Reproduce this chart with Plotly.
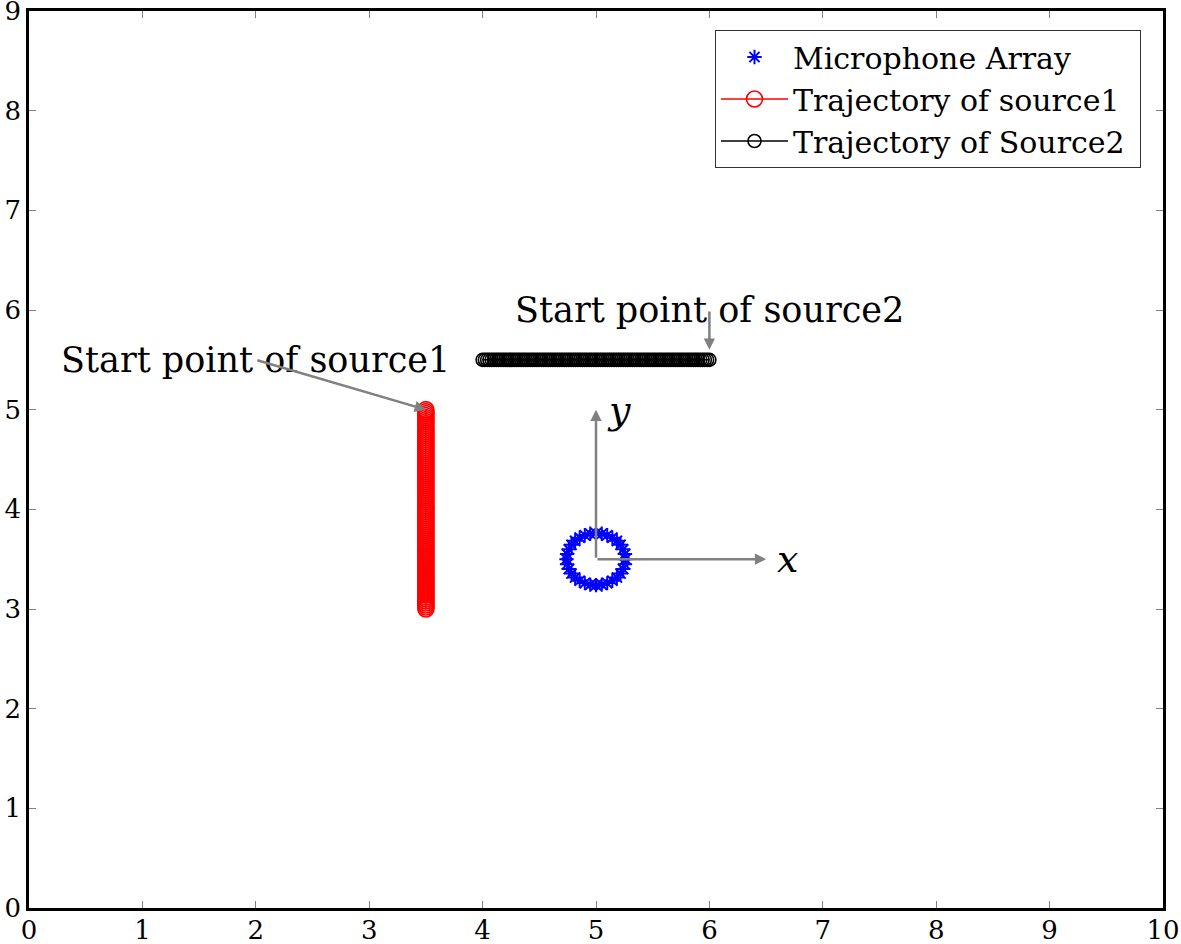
import plotly.graph_objects as go

# ---------------- data ----------------
mic_x = [5.260, 5.255, 5.240, 5.216, 5.184, 5.144, 5.099, 5.051, 5.000, 4.949,
         4.901, 4.856, 4.816, 4.784, 4.760, 4.745, 4.740, 4.745, 4.760, 4.784,
         4.816, 4.856, 4.901, 4.949, 5.000, 5.051, 5.099, 5.144, 5.184, 5.216,
         5.240, 5.255]
mic_y = [3.500, 3.551, 3.599, 3.644, 3.684, 3.716, 3.740, 3.755, 3.760, 3.755,
         3.740, 3.716, 3.684, 3.644, 3.599, 3.551, 3.500, 3.449, 3.401, 3.356,
         3.316, 3.284, 3.260, 3.245, 3.240, 3.245, 3.260, 3.284, 3.316, 3.356,
         3.401, 3.449]

src1_y = [5.00, 4.98, 4.96, 4.94, 4.92, 4.90, 4.88, 4.86, 4.84, 4.82,
          4.80, 4.78, 4.76, 4.74, 4.72, 4.70, 4.68, 4.66, 4.64, 4.62,
          4.60, 4.58, 4.56, 4.54, 4.52, 4.50, 4.48, 4.46, 4.44, 4.42,
          4.40, 4.38, 4.36, 4.34, 4.32, 4.30, 4.28, 4.26, 4.24, 4.22,
          4.20, 4.18, 4.16, 4.14, 4.12, 4.10, 4.08, 4.06, 4.04, 4.02,
          4.00, 3.98, 3.96, 3.94, 3.92, 3.90, 3.88, 3.86, 3.84, 3.82,
          3.80, 3.78, 3.76, 3.74, 3.72, 3.70, 3.68, 3.66, 3.64, 3.62,
          3.60, 3.58, 3.56, 3.54, 3.52, 3.50, 3.48, 3.46, 3.44, 3.42,
          3.40, 3.38, 3.36, 3.34, 3.32, 3.30, 3.28, 3.26, 3.24, 3.22,
          3.20, 3.18, 3.16, 3.14, 3.12, 3.10, 3.08, 3.06, 3.04, 3.02,
          3.00]
src1_x = [3.5] * len(src1_y)

src2_x = [6.00, 5.98, 5.96, 5.94, 5.92, 5.90, 5.88, 5.86, 5.84, 5.82,
          5.80, 5.78, 5.76, 5.74, 5.72, 5.70, 5.68, 5.66, 5.64, 5.62,
          5.60, 5.58, 5.56, 5.54, 5.52, 5.50, 5.48, 5.46, 5.44, 5.42,
          5.40, 5.38, 5.36, 5.34, 5.32, 5.30, 5.28, 5.26, 5.24, 5.22,
          5.20, 5.18, 5.16, 5.14, 5.12, 5.10, 5.08, 5.06, 5.04, 5.02,
          5.00, 4.98, 4.96, 4.94, 4.92, 4.90, 4.88, 4.86, 4.84, 4.82,
          4.80, 4.78, 4.76, 4.74, 4.72, 4.70, 4.68, 4.66, 4.64, 4.62,
          4.60, 4.58, 4.56, 4.54, 4.52, 4.50, 4.48, 4.46, 4.44, 4.42,
          4.40, 4.38, 4.36, 4.34, 4.32, 4.30, 4.28, 4.26, 4.24, 4.22,
          4.20, 4.18, 4.16, 4.14, 4.12, 4.10, 4.08, 4.06, 4.04, 4.02,
          4.00]
src2_y = [5.5] * len(src2_x)

x_ticks = [0, 1, 2, 3, 4, 5, 6, 7, 8, 9, 10]
y_ticks = [0, 1, 2, 3, 4, 5, 6, 7, 8, 9]

FONT = "DejaVu Serif"
GRAY = "#808080"

fig = go.Figure()
fig.add_trace(go.Scatter(
    x=mic_x, y=mic_y, mode="markers", name="Microphone Array",
    marker=dict(symbol="asterisk-open", size=12, color="blue",
                line=dict(color="blue", width=2)),
))
fig.add_trace(go.Scatter(
    x=src1_x, y=src1_y, mode="lines+markers", name="Trajectory of source1",
    line=dict(color="red", width=1.5),
    marker=dict(symbol="circle-open", size=16, color="red",
                line=dict(color="red", width=1.6)),
))
fig.add_trace(go.Scatter(
    x=src2_x, y=src2_y, mode="lines+markers", name="Trajectory of Source2&nbsp;",
    line=dict(color="black", width=1.5),
    marker=dict(symbol="circle-open", size=13, color="black",
                line=dict(color="black", width=1.6)),
))

labels = [
    (2.0, 5.5, "Start point of source1"),
    (6.0, 6.0, "Start point of source2"),
]
for lx, ly, t in labels:
    fig.add_annotation(x=lx, y=ly, xref="x", yref="y", text=t, showarrow=False,
                       font=dict(family=FONT, size=35, color="black"))

fig.add_annotation(x=5.0, y=5.0, xref="x", yref="y", text="<i>y</i>",
                   showarrow=False, xanchor="left", xshift=9,
                   font=dict(family=FONT, size=38, color="black"))
fig.add_annotation(x=6.5, y=3.5, xref="x", yref="y", text="<i>x</i>",
                   showarrow=False, xanchor="left", xshift=9,
                   font=dict(family=FONT, size=38, color="black"))

# arrows (drawn over the labels)
arrows = [
    (3.5, 5.0, 2.0, 5.5),
    (6.0, 5.6, 6.0, 6.0),
    (5.0, 5.0, 5.0, 3.5),
    (6.5, 3.5, 5.0, 3.5),
]
for hx, hy, tx, ty in arrows:
    fig.add_annotation(x=hx, y=hy, ax=tx, ay=ty, xref="x", yref="y",
                       axref="x", ayref="y", text="", showarrow=True,
                       arrowhead=2, arrowsize=0.9, arrowwidth=2.5,
                       arrowcolor=GRAY, standoff=0, startstandoff=0)

axis_common = dict(
    showgrid=False, zeroline=False, showline=True, linecolor="black",
    linewidth=2.5, mirror="ticks", ticks="inside", ticklen=7, tickwidth=1,
    tickcolor=GRAY, tickfont=dict(family=FONT, size=26, color="black"),
    automargin=False, ticklabeloverflow="allow",
)
fig.update_xaxes(range=[0, 10], tickvals=x_ticks, ticktext=[str(v) for v in x_ticks],
                 ticklabelstandoff=-3, **axis_common)
fig.update_yaxes(range=[0, 9], tickvals=y_ticks, ticktext=[str(v) for v in y_ticks],
                 **axis_common)

fig.update_layout(
    width=1181, height=944,
    margin=dict(l=29, r=18, t=11, b=36),
    plot_bgcolor="white", paper_bgcolor="white",
    font=dict(family=FONT, color="black"),
    legend=dict(x=0.9806, y=0.9788, xanchor="right", yanchor="top",
                bgcolor="white", bordercolor="#333333", borderwidth=1,
                font=dict(family=FONT, size=30, color="black"),
                itemwidth=67, tracegroupgap=0),
    showlegend=True,
)

# remove the page's default body margin so the figure fills the window exactly
fig.write_html(
    "out.html",
    config={"displayModeBar": False},
    post_script="document.body.style.margin='0';document.body.style.overflow='hidden';",
)
